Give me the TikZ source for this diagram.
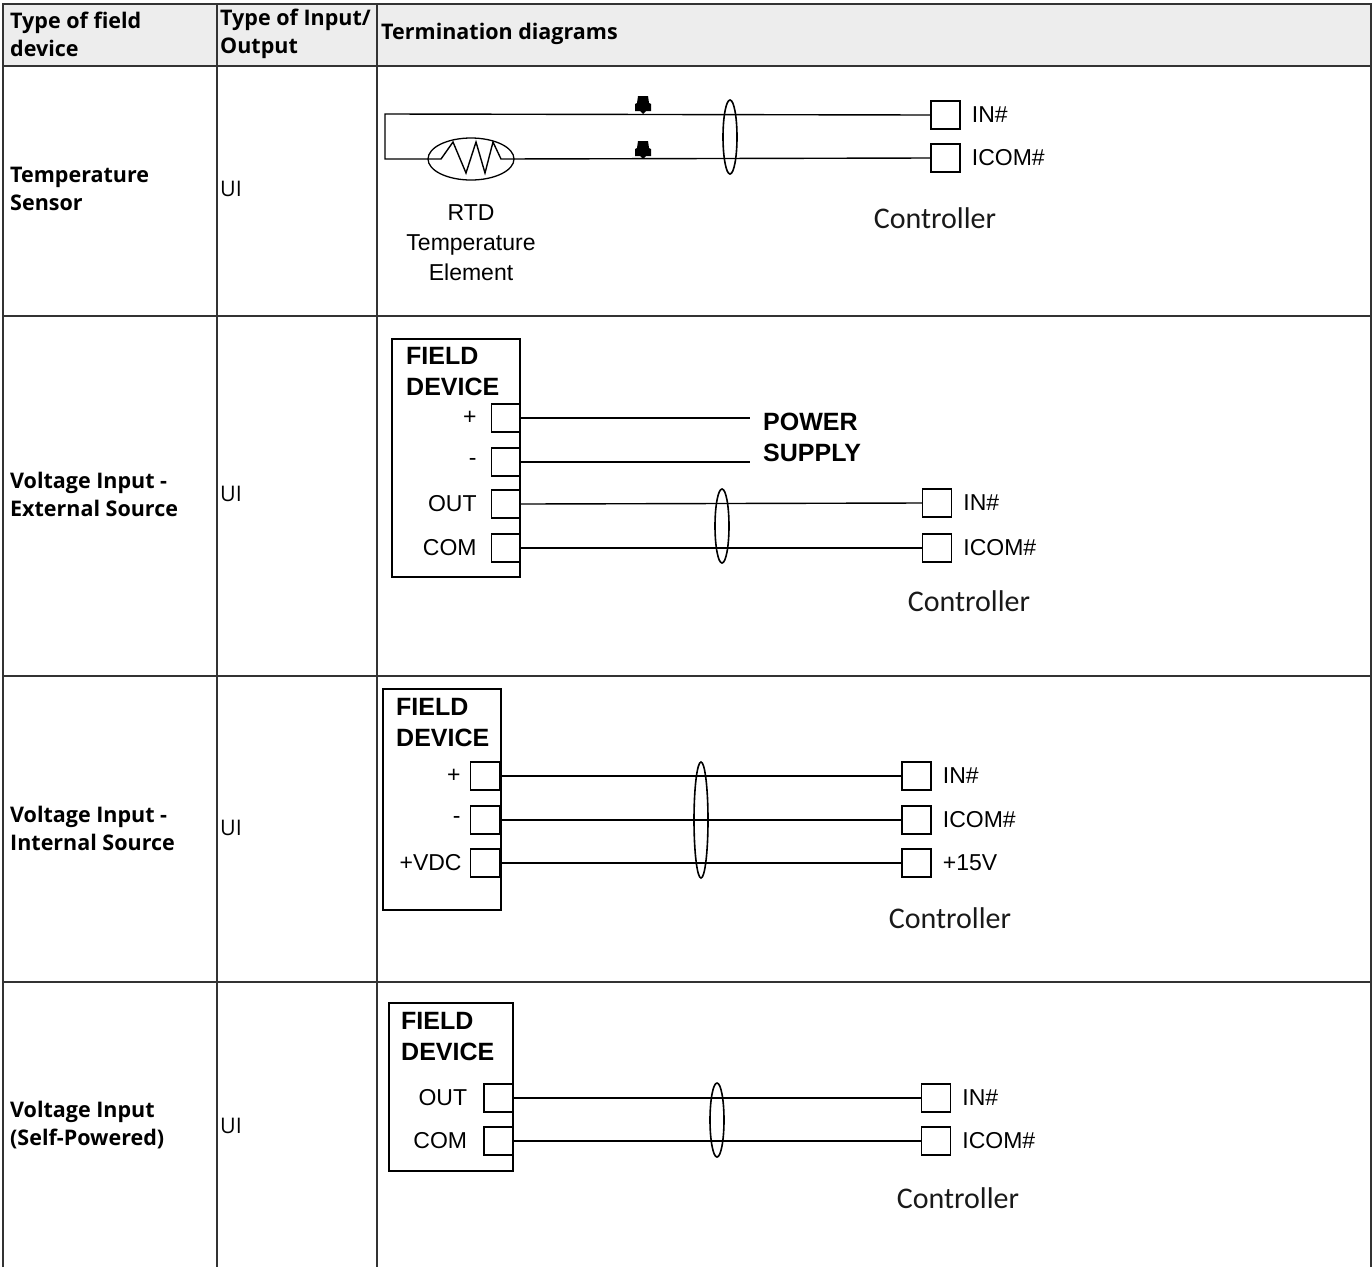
\documentclass[tikz,border=0pt]{standalone}
\usepackage{fontspec}
\setmainfont{Open Sans}
\newfontfamily\wirefont{Liberation Sans}
\newfontfamily\ctrlfont{Carlito}
\usetikzlibrary{positioning,shapes.geometric}

\tikzset{
  grid/.style={line width=1.6pt, draw=black!80},
  cell/.style={inner sep=0pt, anchor=west, align=left, font=\fontsize{21.5}{28}\selectfont},
  head/.style={cell, font=\bfseries\fontsize{21.5}{28}\selectfont},
  term/.style={draw, line width=1.4pt, minimum width=29pt, minimum height=28pt, inner sep=0pt},
  wire/.style={line width=1.4pt},
  cable/.style={line width=1.6pt},
  pinlabel/.style={inner sep=0pt, font=\wirefont\fontsize{23}{26}\selectfont},
  fdtext/.style={inner sep=0pt, align=left, anchor=west, font=\wirefont\bfseries\fontsize{25}{31}\selectfont},
  ctrl/.style={inner sep=0pt, font=\ctrlfont\fontsize{30}{32}\selectfont, text=black!90},
  splice/.pic={\fill (-5,-18) -- (5,-18) -- (6,-11) -- (8,-10) -- (8,-3) -- (3,-3) -- (0,0)
    -- (-3,-3) -- (-8,-3) -- (-8,-10) -- (-6,-11) -- cycle;},
}

\begin{document}
\begin{tikzpicture}[x=1pt, y=-1pt]
  \useasboundingbox (0,0) rectangle (1372,1267);

  % table
  \fill[black!7] (3,4) rectangle (1371,66);
  \draw[grid] (3,1267) -- (3,4) -- (1371,4) -- (1371,1267);
  \draw[grid] (3,66) -- (1371,66);
  \draw[grid] (3,316) -- (1371,316);
  \draw[grid] (3,676) -- (1371,676);
  \draw[grid] (3,982) -- (1371,982);
  \draw[grid] (217,4) -- (217,1267);
  \draw[grid] (377,4) -- (377,1267);

  \node[head] (h1) at (10,34) {Type of field\\device};
  \node[head] (h2) at (220,34) {Type of Input/\\Output};
  \node[head] (h3) at (381,34) {Termination diagrams};

  \node[head] (dev1) at (10,189) {Temperature\\Sensor};
  \node[head] (dev2) at (10,494) {Voltage Input -\\External Source};
  \node[head] (dev3) at (10,828) {Voltage Input -\\Internal Source};
  \node[head] (dev4) at (10,1125) {Voltage Input\\(Self-Powered)};
  \node[cell] (io1) at (220,189) {UI};
  \node[cell] (io2) at (220,494) {UI};
  \node[cell] (io3) at (220,828) {UI};
  \node[cell] (io4) at (220,1126) {UI};

  % temperature sensor
  \coordinate (loopa) at (385,114);
  \coordinate (loopb) at (385,159);
  \node[draw, line width=1.3pt, ellipse, minimum width=86pt, minimum height=42pt, inner sep=0pt] (rtd) at (471,159) {};
  \node[term] (in1) at (945.5,115) {};
  \node[term] (icom1) at (945.5,158) {};
  \draw[wire] (in1.west) -- (loopa) -- (loopb) -- (441,159) -- (453,142) -- (466,173) -- (476,142)
    -- (485,173) -- (493,142) -- (501,159) -- (icom1.west);
  \pic at (643,114) {splice};
  \pic at (643,159) {splice};
  \draw[cable] (730,137) ellipse [x radius=7pt, y radius=37pt];
  \node[pinlabel, right=11pt of in1] (in1l) {IN\#};
  \node[pinlabel, right=11pt of icom1] (icom1l) {ICOM\#};
  \node[pinlabel, align=center, font=\wirefont\fontsize{23}{30}\selectfont] (rtdl) at (471,243) {RTD\\Temperature\\Element};
  \node[ctrl] (ctrl1) at (935,218) {Controller};

  % voltage input, external source
  \draw[wire] (392,339) rectangle (520,577);
  \node[fdtext] (fd2) at (406,372) {FIELD\\DEVICE};
  \node[term] (p2) at (506,418) {};
  \node[term] (m2) at (506,462) {};
  \node[term] (out2) at (506,504) {};
  \node[term] (com2) at (506,548) {};
  \node[pinlabel, left=14pt of p2] (p2l) {+};
  \node[pinlabel, left=14pt of m2] (m2l) {-};
  \node[pinlabel, left=14pt of out2] (out2l) {OUT};
  \node[pinlabel, left=14pt of com2] (com2l) {COM};
  \coordinate (psp) at (750,418);
  \coordinate (psm) at (750,462);
  \draw[wire] (p2.east) -- (psp);
  \draw[wire] (m2.east) -- (psm);
  \node[fdtext] (ps2) at (763,437) {POWER\\SUPPLY};
  \node[term] (in2) at (937,503) {};
  \node[term] (icom2) at (937,548) {};
  \draw[wire] (out2.east) -- (in2.west);
  \draw[wire] (com2.east) -- (icom2.west);
  \draw[cable] (722,526) ellipse [x radius=7pt, y radius=37pt];
  \node[pinlabel, right=11pt of in2] (in2l) {IN\#};
  \node[pinlabel, right=11pt of icom2] (icom2l) {ICOM\#};
  \node[ctrl] (ctrl2) at (969,601) {Controller};

  % voltage input, internal source
  \draw[wire] (383,689) rectangle (501,910);
  \node[fdtext] (fd3) at (396,723) {FIELD\\DEVICE};
  \node[term] (p3) at (485,776) {};
  \node[term] (m3) at (485,820) {};
  \node[term] (vdc3) at (485,863) {};
  \node[pinlabel, left=9pt of p3] (p3l) {+};
  \node[pinlabel, left=9pt of m3] (m3l) {-};
  \node[pinlabel, left=8pt of vdc3] (vdc3l) {+VDC};
  \node[term] (in3) at (916.5,776) {};
  \node[term] (icom3) at (916.5,820) {};
  \node[term] (v3) at (916.5,863) {};
  \draw[wire] (p3.east) -- (in3.west);
  \draw[wire] (m3.east) -- (icom3.west);
  \draw[wire] (vdc3.east) -- (v3.west);
  \draw[cable] (701,820) ellipse [x radius=7pt, y radius=58pt];
  \node[pinlabel, right=11pt of in3] (in3l) {IN\#};
  \node[pinlabel, right=11pt of icom3] (icom3l) {ICOM\#};
  \node[pinlabel, right=11pt of v3] (v3l) {+15V};
  \node[ctrl] (ctrl3) at (950,918) {Controller};

  % voltage input, self-powered
  \draw[wire] (389,1003) rectangle (513,1171);
  \node[fdtext] (fd4) at (401,1037) {FIELD\\DEVICE};
  \node[term] (out4) at (498.5,1098) {};
  \node[term] (com4) at (498.5,1141) {};
  \node[pinlabel, left=16pt of out4] (out4l) {OUT};
  \node[pinlabel, left=16pt of com4] (com4l) {COM};
  \node[term] (in4) at (936,1098) {};
  \node[term] (icom4) at (936,1141) {};
  \draw[wire] (out4.east) -- (in4.west);
  \draw[wire] (com4.east) -- (icom4.west);
  \draw[cable] (717,1120) ellipse [x radius=7pt, y radius=37pt];
  \node[pinlabel, right=11pt of in4] (in4l) {IN\#};
  \node[pinlabel, right=11pt of icom4] (icom4l) {ICOM\#};
  \node[ctrl] (ctrl4) at (958,1198) {Controller};
\end{tikzpicture}
\end{document}
